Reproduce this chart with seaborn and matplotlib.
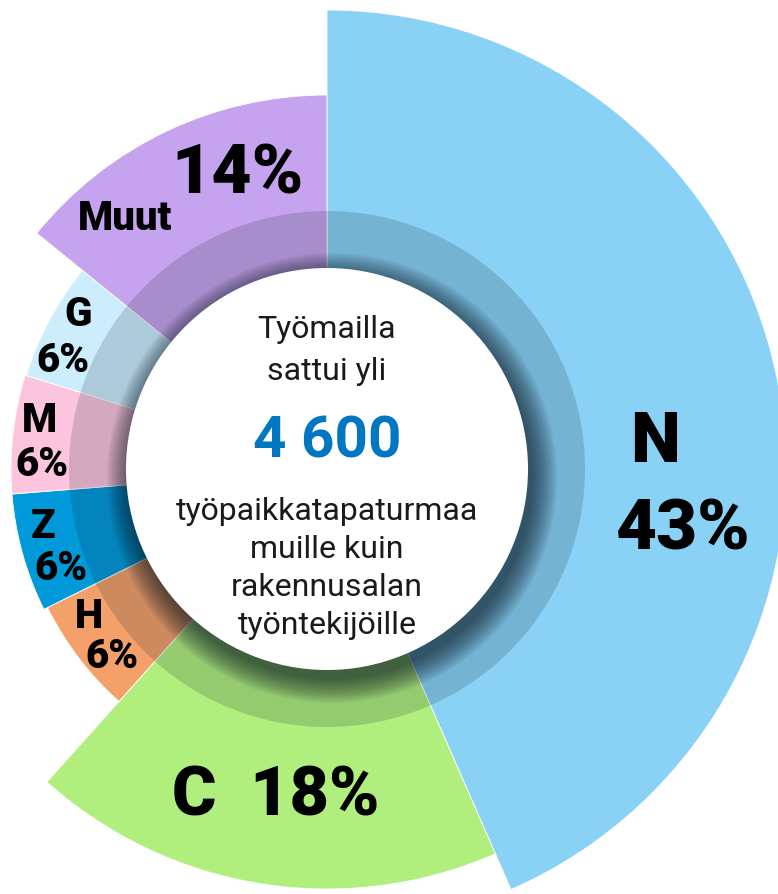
import numpy as np
import matplotlib
matplotlib.use("Agg")
import matplotlib.pyplot as plt
from matplotlib.patches import Circle
import seaborn as sns

# Share of workplace accidents by sector (percent, as labelled)
SECTORS = ["N", "C", "H", "Z", "M", "G", "Muut"]
SHARES = [43, 18, 6, 6, 6, 6, 14]
TOTAL_LABEL = "4 600"

sns.set_theme(style="white")
plt.rcParams["font.family"] = ["Roboto", "DejaVu Sans"]

W, H = 778, 894
CX, CY = 327, 469          # pie centre in pixels (from top-left)
R_MAX = 459
R_HOLE = 201
R_BAND = 258

palette = sns.color_palette(
    ["#89d1f5", "#b0ee7d", "#f4a06a", "#0099da", "#fcc4dd", "#cbedfc", "#c6a3ee"]
)
outer_r = {"N": 459, "C": 420, "H": 312, "Z": 316, "M": 316, "G": 315, "Muut": 374}

fig = plt.figure(figsize=(W / 100, H / 100), dpi=100)
fig.patch.set_facecolor("white")

# polar axes for the sectors, sized in pixels so r is in px
ax = fig.add_axes(
    [(CX - R_MAX) / W, (H - (CY + R_MAX)) / H, 2 * R_MAX / W, 2 * R_MAX / H],
    projection="polar",
)
ax.set_theta_zero_location("N")
ax.set_theta_direction(-1)
ax.set_ylim(0, R_MAX)
ax.axis("off")

shares = np.array(SHARES, dtype=float)
widths = shares / shares.sum() * 2 * np.pi
starts = np.concatenate([[0], np.cumsum(widths)[:-1]])
ax.bar(
    starts,
    [outer_r[s] for s in SECTORS],
    width=widths,
    bottom=0,
    align="edge",
    color=palette,
    edgecolor="white",
    linewidth=0.6,
)
# darker translucent ring around the centre
ax.bar(0, R_BAND - R_HOLE, width=2 * np.pi, bottom=R_HOLE, align="edge",
       color="#14222e", alpha=0.17, linewidth=0)

# cartesian overlay in pixel units for the hole, shadow and text
ov = fig.add_axes([0, 0, 1, 1])
ov.set_xlim(0, W)
ov.set_ylim(H, 0)
ov.axis("off")
ov.patch.set_alpha(0)

for i in range(16):
    ov.add_patch(Circle((CX + 5, CY + 9), R_HOLE + i * 1.6, color="#0a1620",
                        alpha=0.05, lw=0))
ov.add_patch(Circle((CX, CY), R_HOLE, color="white", lw=0))

txt = dict(ha="center", va="center", fontsize=23, color="#1a1a1a")
ov.text(CX, 330, "Työmailla", **txt)
ov.text(CX, 371, "sattui yli", **txt)
ov.text(CX, 442, TOTAL_LABEL, ha="center", va="center", fontsize=42,
        fontweight="bold", color="#0077c0")
for y, line in zip([511, 549, 587, 625],
                   ["työpaikkatapaturmaa", "muille kuin", "rakennusalan", "työntekijöille"]):
    ov.text(CX, y, line, **txt)

big = dict(ha="center", va="center", fontweight=900, color="black")
ov.text(655, 443, SECTORS[0], fontsize=51, **big)
ov.text(683, 530, f"{SHARES[0]}%", fontsize=51, **big)
ov.text(276, 797, f"{SECTORS[1]}  {SHARES[1]}%", fontsize=49, **big)
ov.text(238, 175, f"{SHARES[6]}%", fontsize=50, **big)
ov.text(125, 218, SECTORS[6], fontsize=29, **big)

small = [("G", 78, 314, 63, 361), ("M", 40, 421, 42, 465),
         ("Z", 43, 527, 61, 568), ("H", 89, 616, 112, 657)]
for name, x1, y1, x2, y2 in small:
    ov.text(x1, y1, name, fontsize=29, **big)
    ov.text(x2, y2, f"{SHARES[SECTORS.index(name)]}%", fontsize=29, **big)

fig.savefig("out.png", dpi=100)
